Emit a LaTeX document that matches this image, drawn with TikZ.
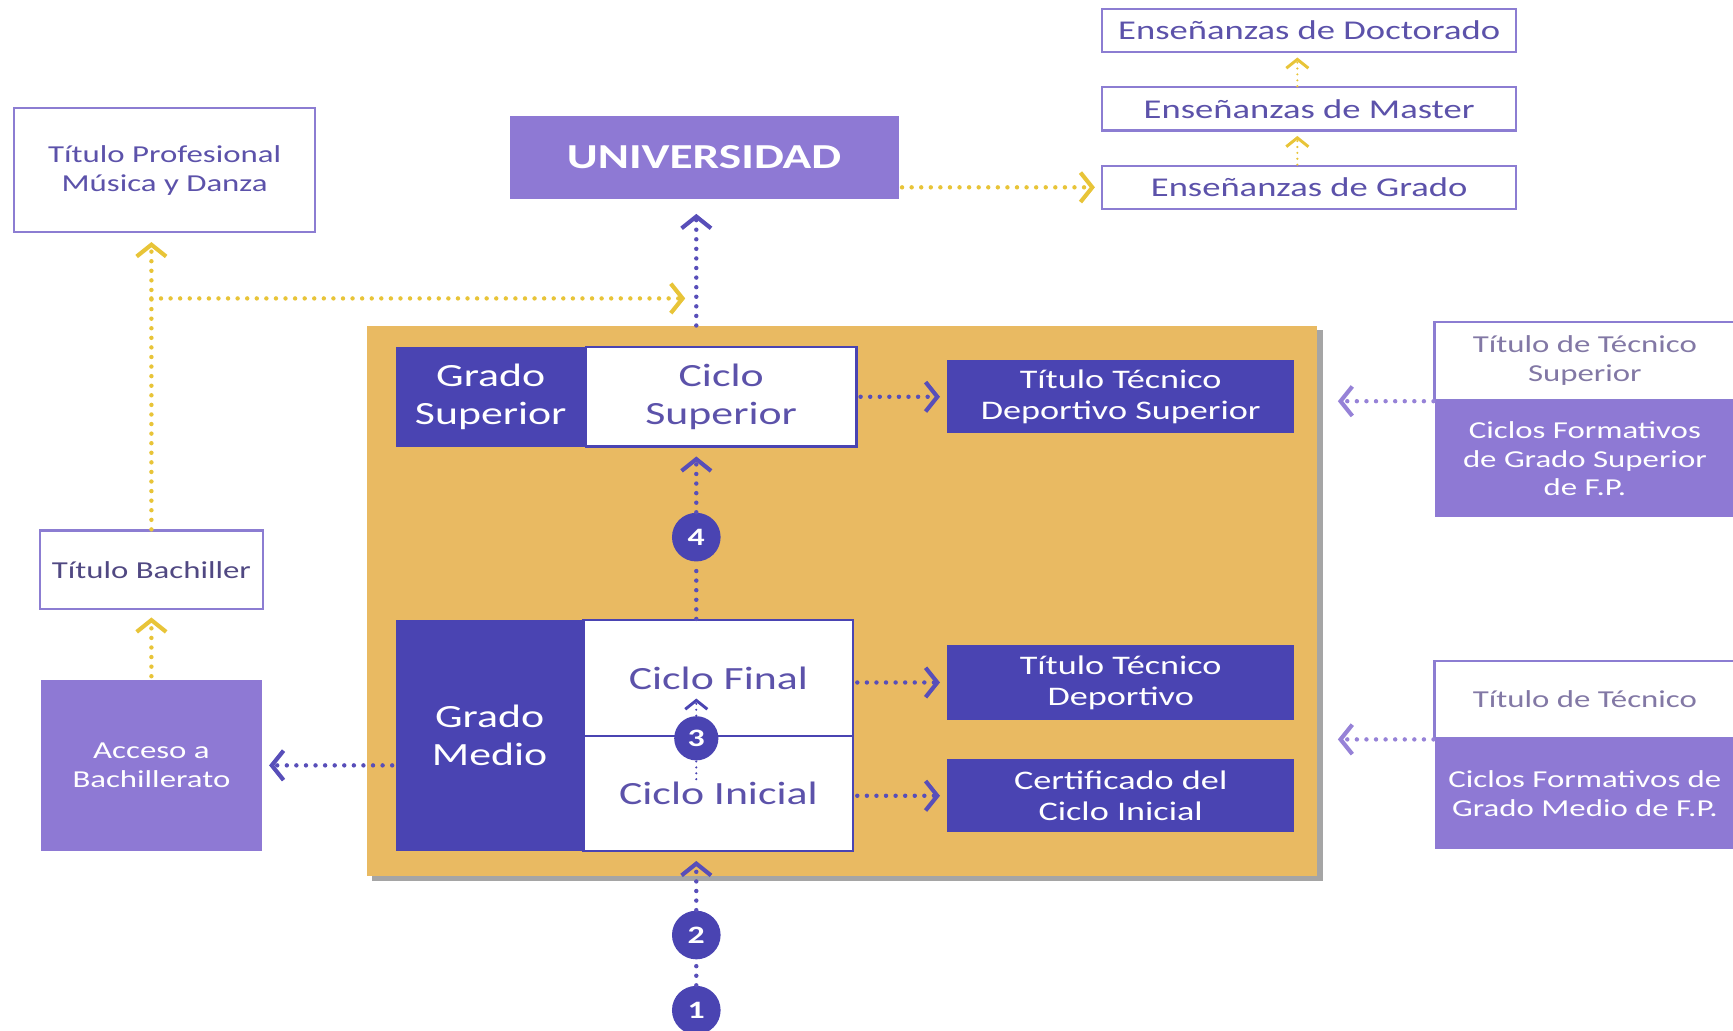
\documentclass[tikz,border=0pt]{standalone}
\usepackage{fontspec}
\setmainfont{Carlito}[FakeStretch=1.35]
\usetikzlibrary{arrows.meta}

\definecolor{darkblue}{RGB}{74,68,178}
\definecolor{lilac}{RGB}{142,121,212}
\definecolor{orangebg}{RGB}{233,186,98}
\definecolor{shadowgrey}{RGB}{165,165,165}
\definecolor{yellowarr}{RGB}{232,196,56}
\definecolor{purplearr}{RGB}{88,78,185}
\definecolor{lightarr}{RGB}{150,130,215}
\definecolor{boxline}{RGB}{140,125,210}
\definecolor{txtpurple}{RGB}{92,82,170}
\definecolor{greytxt}{RGB}{130,120,165}
\definecolor{bachtxt}{RGB}{80,72,130}

\tikzset{every picture/.style={line width=0.75pt}}
\tikzset{
  whitebox/.style={draw=boxline, line width=1.5pt, fill=white, text=txtpurple, align=center, inner sep=0pt},
  darkbox/.style={fill=darkblue, text=white, align=center, inner sep=0pt},
  lilabox/.style={fill=lilac, text=white, align=center, inner sep=0pt},
  numcirc/.style={circle, fill=darkblue, text=white, font=\bfseries\fontsize{17}{17}\selectfont, minimum size=33pt, inner sep=0pt},
  fsmall/.style={font=\fontsize{16.5}{19.5}\selectfont},
  fense/.style={font=\fontsize{18.4}{21.5}\selectfont},
  ftit/.style={font=\fontsize{18.2}{21}\selectfont},
  fciclo/.style={font=\fontsize{22}{25.5}\selectfont},
  dotline/.style={line width=3pt, dash pattern=on 0pt off 6.5pt, line cap=round},
  thindot/.style={line width=1.6pt, dash pattern=on 0pt off 4pt, line cap=round},
  chev/.style={-{Straight Barb[length=8pt,width=20pt,line width=2.8pt]}},
  smallchev/.style={-{Straight Barb[length=6pt,width=15pt,line width=2pt]}},
  yarrow/.style={dotline, chev, draw=yellowarr},
  parrow/.style={dotline, chev, draw=purplearr},
  larrow/.style={dotline, chev, draw=lightarr},
}

\begin{document}
\begin{tikzpicture}[x=0.75pt,y=0.75pt,yscale=-1,xscale=1]
\useasboundingbox (0,0) rectangle (1568,932);
%Shape: panel and its shadow
\node[fill=shadowgrey, minimum width=645pt, minimum height=373.5pt, inner sep=0pt] (panelshadow) at (767,548) {};
\node[fill=orangebg, minimum width=645pt, minimum height=373.5pt, inner sep=0pt] (panel) at (762,544) {};
% Text Node
\node[whitebox, fsmall, minimum width=204pt, minimum height=84pt] (tprof) at (149,154) {Título Profesional\\Música y Danza};
% Text Node
\node[lilabox, font=\bfseries\fontsize{23.8}{28}\selectfont, minimum width=264pt, minimum height=56.25pt] (univ) at (637,142.5) {UNIVERSIDAD};
% Text Node
\node[whitebox, fense, minimum width=281.25pt, minimum height=29.25pt] (doct) at (1184.5,27.5) {Enseñanzas de Doctorado};
\node[whitebox, fense, minimum width=281.25pt, minimum height=29.25pt] (master) at (1184.5,98.5) {Enseñanzas de Master};
\node[whitebox, fense, minimum width=281.25pt, minimum height=29.25pt] (grado) at (1184.5,169.5) {Enseñanzas de Grado};
% Text Node
\node[darkbox, fciclo, minimum width=129pt, minimum height=67.5pt] (gsup) at (444,359) {Grado\\Superior};
\node[whitebox, draw=darkblue, fciclo, minimum width=183.75pt, minimum height=67.5pt] (csup) at (652.5,359) {Ciclo\\Superior};
\node[darkbox, ftit, minimum width=235.5pt, minimum height=49.5pt] (ttds) at (1014,359) {Título Técnico\\Deportivo Superior};
% Text Node
\node[darkbox, fciclo, minimum width=127.5pt, minimum height=156.75pt] (gmed) at (443,665.5) {Grado\\Medio};
\node[whitebox, draw=darkblue, fciclo, minimum width=183pt, minimum height=78.75pt] (cfin) at (650,613.5) {Ciclo Final};
\node[whitebox, draw=darkblue, fciclo, minimum width=183pt, minimum height=78pt] (cini) at (650,718) {Ciclo Inicial};
\node[darkbox, ftit, minimum width=235.5pt, minimum height=50.25pt] (ttd) at (1014,617.5) {Título Técnico\\Deportivo};
\node[darkbox, ftit, minimum width=235.5pt, minimum height=49.5pt] (cert) at (1014,720) {Certificado del\\Ciclo Inicial};
% Text Node
\node[lilabox, fsmall, minimum width=150pt, minimum height=116.25pt] (acc) at (137,692.5) {Acceso a\\Bachillerato};
\node[whitebox, fsmall, text=bachtxt, minimum width=151.5pt, minimum height=53.25pt] (tbach) at (137,515.5) {Título Bachiller};
% Text Node
\node[whitebox, fsmall, text=greytxt, minimum width=204pt, minimum height=53.25pt] (tsup) at (1434,326.5) {Título de Técnico\\Superior};
\node[lilabox, fsmall, minimum width=204pt, minimum height=79.5pt] (cfsup) at (1434,415) {Ciclos Formativos\\de Grado Superior\\de F.P.};
\node[whitebox, fsmall, text=greytxt, minimum width=204pt, minimum height=52.5pt] (ttec) at (1434,633) {Título de Técnico};
\node[lilabox, fsmall, minimum width=204pt, minimum height=75pt] (cfmed) at (1434,718) {Ciclos Formativos de\\Grado Medio de F.P.};
% Numbered steps
\node[numcirc] (c4) at (630,486) {4};
\node[numcirc, minimum size=30pt] (c3) at (630,668) {3};
\node[numcirc] (c2) at (630,846) {2};
\node[numcirc] (c1) at (630,914) {1};
\coordinate (c3tail) at (630,705);
\coordinate (c3head) at (630,632);
\coordinate (ybranch) at (137,270);
%Straight Lines
\draw[yarrow, shorten <=2pt, shorten >=4pt] (univ.east |- grado.west) -- (grado.west);
\draw[thindot, smallchev, draw=yellowarr, shorten >=3pt] ([xshift=-8pt]grado.north) -- ([xshift=-8pt]master.south);
\draw[thindot, smallchev, draw=yellowarr, shorten >=3pt] ([xshift=-8pt]master.north) -- ([xshift=-8pt]doct.south);
%Straight Lines
\draw[parrow, shorten >=9.75pt] (panel.north -| c4) -- (univ.south -| c4);
\draw[yarrow, shorten >=6pt] (tbach.north) -- (tbach.north |- tprof.south);
\draw[yarrow, shorten >=7.5pt] (ybranch) -- (ybranch -| c4);
\draw[yarrow, shorten <=2pt, shorten >=5pt] (acc.north) -- (tbach.south);
%Straight Lines
\draw[parrow, shorten <=2pt, shorten >=4.5pt] (csup.east) -- (ttds.west);
\draw[parrow, shorten <=2pt, shorten >=4.5pt] (cfin.east |- ttd.west) -- (ttd.west);
\draw[parrow, shorten <=2pt, shorten >=4.5pt] (cini.east |- cert.west) -- (cert.west);
\draw[parrow, shorten <=2pt, shorten >=4.5pt] (gmed.west |- acc.east) -- (acc.east);
%Straight Lines
\draw[dotline, draw=purplearr] (cfin.north -| c4) -- (c4);
\draw[parrow, shorten >=6pt] (c4) -- (c4 |- csup.south);
\draw[thindot, draw=darkblue] (c3tail) -- (c3);
\draw[thindot, smallchev, draw=darkblue] (c3) -- (c3head);
\draw[dotline, draw=purplearr] (c1) -- (c2);
\draw[parrow, shorten >=6pt] (c2) -- (cini.south -| c2);
%Straight Lines
\draw[larrow, shorten >=13.5pt] (tsup.south west) -- (panel.east |- tsup.south west);
\draw[larrow, shorten >=13.5pt] (ttec.south west) -- (panel.east |- ttec.south west);
\end{tikzpicture}
\end{document}
